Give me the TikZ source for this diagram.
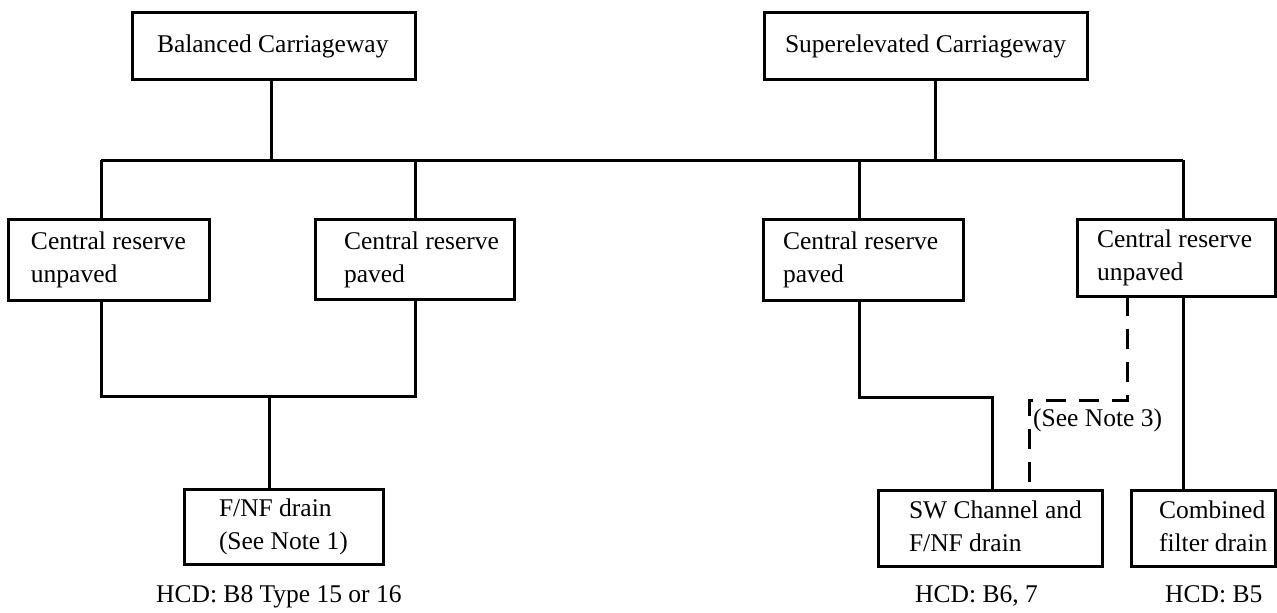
\documentclass[tikz,border=0pt]{standalone}
\usepackage{fontspec}
\setmainfont{Liberation Serif}
\begin{document}
\begin{tikzpicture}[x=1pt,y=-1pt,
  box/.style={draw,line width=3pt,inner sep=0pt,outer sep=0pt,font=\fontsize{25.5}{33}\selectfont},
  conn/.style={line width=3pt},
  dashconn/.style={line width=3pt,dash pattern=on 20pt off 13pt},
  lbl/.style={inner sep=0pt,anchor=base west,font=\fontsize{25.5}{33}\selectfont}]
\newcommand{\bxt}[3]{\makebox[#1pt][l]{\hspace{#2pt}\begin{tabular}{@{}l@{}}#3\end{tabular}}}
\useasboundingbox (0,0) rectangle (1277,613);
% top boxes
\node[box,minimum width=283pt,minimum height=67pt] (bc) at (273.5,45.5) {\bxt{283}{25}{Balanced Carriageway}};
\node[box,minimum width=323pt,minimum height=67pt] (sc) at (925.5,45.5) {\bxt{323}{21}{Superelevated Carriageway}};
% middle boxes
\node[box,minimum width=201pt,minimum height=81pt] (cru) at (108.5,259.5) {\bxt{201}{23}{Central reserve\\unpaved}};
\node[box,minimum width=199pt,minimum height=80pt] (crp) at (414.5,259) {\bxt{199}{29}{Central reserve\\paved}};
\node[box,minimum width=200pt,minimum height=81pt] (crpr) at (863,259.5) {\bxt{200}{20}{Central reserve\\paved}};
\node[box,minimum width=198pt,minimum height=77pt] (crur) at (1176,257.5) {\bxt{198}{20}{Central reserve\\unpaved}};
% bottom boxes
\node[box,minimum width=199pt,minimum height=75pt] (fnf) at (283.5,526.5) {\bxt{199}{35}{F/NF drain\\(See Note 1)}};
\node[box,minimum width=224pt,minimum height=76pt] (sw) at (990,528) {\bxt{224}{31}{SW Channel and\\F/NF drain}};
\node[box,minimum width=144pt,minimum height=76pt] (cfd) at (1203,528) {\bxt{144}{28}{Combined\\filter drain}};
% labels
\node[lbl] (h1) at (156,602) {HCD: B8 Type 15 or 16};
\node[lbl] (h2) at (915,602) {HCD: B6, 7};
\node[lbl] (h3) at (1165,602) {HCD: B5};
\node[lbl] (n3) at (1033,426) {(See Note 3)};
% junction coordinates
\coordinate (b1) at (101,160);
\coordinate (b2) at (415,160);
\coordinate (b3) at (859,160);
\coordinate (b4) at (1183,160);
\coordinate (t1) at (271,160);
\coordinate (t2) at (935,160);
\coordinate (j1) at (101,396);
\coordinate (j2) at (269,396);
\coordinate (j3) at (992,397);
\coordinate (d1) at (1127,400);
\coordinate (d2) at (1029,400);
% connectors
\draw[conn] (b1) -- (b4);
\draw[conn] (t1 |- bc.south) -- (t1);
\draw[conn] (t2 |- sc.south) -- (t2);
\draw[conn] (b1) -- (b1 |- cru.north);
\draw[conn] (b2) -- (b2 |- crp.north);
\draw[conn] (b3) -- (b3 |- crpr.north);
\draw[conn] (b4) -- (b4 |- crur.north);
\draw[conn] (j1 |- cru.south) -- (j1) -| (b2 |- crp.south);
\draw[conn] (j2) -- (j2 |- fnf.north);
\draw[conn] (b3 |- crpr.south) |- (j3) -- (j3 |- sw.north);
\draw[conn] (b4 |- crur.south) -- (b4 |- cfd.north);
\draw[dashconn] (d1 |- crur.south) -- (d1) -- (d2) -- (d2 |- sw.north);
\end{tikzpicture}
\end{document}
